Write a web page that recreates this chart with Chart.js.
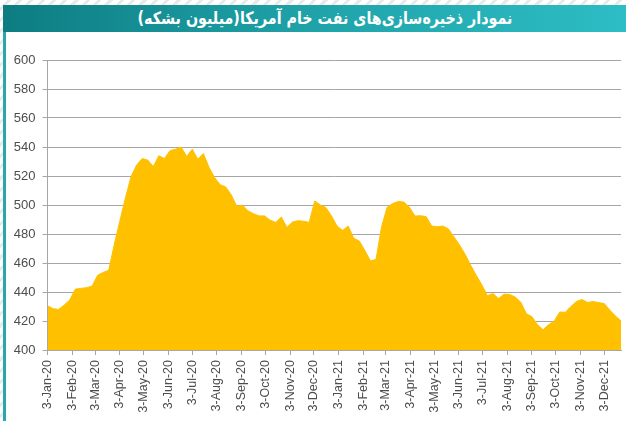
<!DOCTYPE html>
<html>
<head>
<meta charset="utf-8">
<script src="https://cdn.jsdelivr.net/npm/chart.js@4.4.1/dist/chart.umd.min.js"></script>
<style>
html, body { margin: 0; padding: 0; }
body {
    width: 626px; height: 421px; position: relative; overflow: hidden;
    background: repeating-linear-gradient(135deg, #ffffff 0 5px, #e6eaea 5px 8px);
}
#leftline { position: absolute; left: 3px; top: 6px; width: 3px; height: 415px; background: #2aa7ad; }
#panel { position: absolute; left: 6px; top: 32px; width: 620px; height: 389px; background: #ffffff; }
#titlebar {
    position: absolute; left: 3px; top: 5px; width: 623px; height: 27px;
    background: linear-gradient(to right, #0d7d82, #1fa3a9 50%, #2dbdc4);
}
#title {
    position: absolute; left: 0; top: 5px; width: 626px; height: 27px; line-height: 27px;
    text-align: center; color: #ffffff; font-family: "DejaVu Sans"; font-weight: bold; font-size: 17px;
    direction: rtl; transform: translateX(12px) scaleX(0.84);
}
#wrap { position: absolute; left: 0; top: 0; width: 626px; height: 421px; }
</style>
</head>
<body>
<div id="leftline"></div>
<div id="panel"></div>
<div id="titlebar"></div>
<div id="title">نمودار ذخیره‌سازی‌های نفت خام آمریکا(میلیون بشکه)</div>
<div id="wrap"><canvas id="myChart" width="626" height="421"></canvas></div>
<script>
// weekly US crude stocks, first week 3-Jan-2020
var startDate = Date.UTC(2020, 0, 3);
var stocks = [
    430.5, 428.5, 428, 431, 434.5, 442, 442.5, 443, 444, 451.5,
    453.5, 455, 473, 489, 505, 519.5, 527.5, 532, 531, 526.5,
    534, 532, 537.5, 538.5, 540, 533.5, 538.5, 531.5, 535.5, 526,
    519, 514, 512.5, 507, 499, 500, 496, 494, 492.5, 492.5,
    489.5, 488, 491.7, 484.5, 488.3, 489.2, 488.8, 488, 502.8, 500,
    498.3, 492.5, 485.5, 482.5, 485.5, 477, 475.2, 468.6, 461.4, 462.5,
    485, 498.5, 501, 502.5, 502, 498.5, 492.4, 492.6, 492, 485.5,
    485, 485.5, 483.5, 478, 472.5, 466, 458.5, 451.5, 445, 437.5,
    439, 435.5, 438.5, 438.3, 436.5, 433, 425, 423, 417.5, 414,
    417.5, 420, 426.2, 426, 430, 433.5, 434.8, 432.8, 433.4, 432.7,
    432, 427.5, 423.5, 420
];
var tickLabels = [
    '3-Jan-20', '3-Feb-20', '3-Mar-20', '3-Apr-20', '3-May-20', '3-Jun-20',
    '3-Jul-20', '3-Aug-20', '3-Sep-20', '3-Oct-20', '3-Nov-20', '3-Dec-20',
    '3-Jan-21', '3-Feb-21', '3-Mar-21', '3-Apr-21', '3-May-21', '3-Jun-21',
    '3-Jul-21', '3-Aug-21', '3-Sep-21', '3-Oct-21', '3-Nov-21', '3-Dec-21'
];
var yTicks = [400, 420, 440, 460, 480, 500, 520, 540, 560, 580, 600];

var DAY = 86400000;
var monthDays = tickLabels.map(function(t, i) {
    var y = 2020 + Math.floor(i / 12);
    return Math.round((Date.UTC(y, i % 12, 3) - startDate) / DAY);
});
var points = stocks.map(function(v, i) { return {x: i * 7, y: v}; });

var gridGray = '#a6a6a6';
var txt = '#4d4d4d';

var ctx = document.getElementById('myChart').getContext('2d');
var chart = new Chart(ctx, {
    type: 'line',
    data: {
        datasets: [{
            data: points,
            backgroundColor: '#ffc000',
            borderColor: '#ffc000',
            borderWidth: 1,
            pointRadius: 0,
            fill: 'start',
            tension: 0
        }]
    },
    options: {
        responsive: false,
        animation: false,
        layout: { padding: { top: 60, right: 5, left: 0, bottom: 0 } },
        plugins: { legend: { display: false }, tooltip: { enabled: false } },
        scales: {
            x: {
                type: 'linear',
                min: 0,
                max: (stocks.length - 1) * 7,
                afterBuildTicks: function(scale) {
                    scale.ticks = monthDays.map(function(d) { return {value: d}; });
                },
                afterFit: function(scale) { scale.height = 71; },
                grid: { drawOnChartArea: false, drawTicks: true, tickLength: 5, color: gridGray },
                border: { display: true, color: gridGray },
                ticks: {
                    autoSkip: false,
                    minRotation: 90,
                    maxRotation: 90,
                    padding: 5,
                    color: txt,
                    font: { family: 'Liberation Sans', size: 12.5 },
                    callback: function(value, index) { return tickLabels[index]; }
                }
            },
            y: {
                min: 400,
                max: 600,
                afterBuildTicks: function(scale) {
                    scale.ticks = yTicks.map(function(v) { return {value: v}; });
                },
                afterFit: function(scale) { scale.width = 47.5; },
                grid: { color: gridGray, tickLength: 5 },
                border: { display: true, color: gridGray },
                ticks: {
                    padding: 7,
                    color: txt,
                    font: { family: 'Liberation Sans', size: 13 }
                }
            }
        }
    }
});
</script>
</body>
</html>
